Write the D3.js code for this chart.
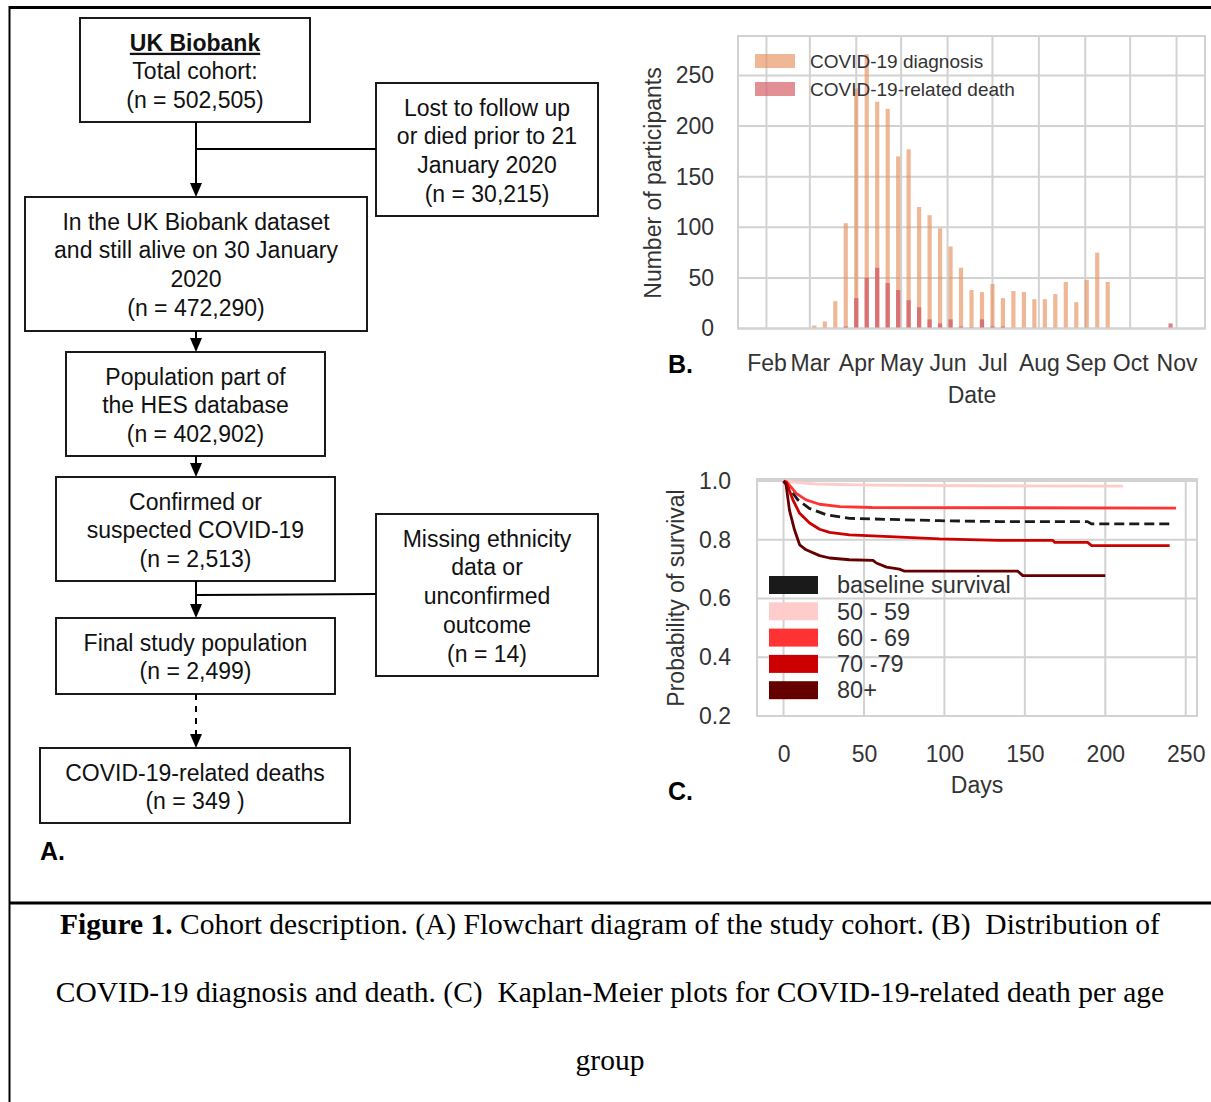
<!DOCTYPE html>
<html>
<head>
<meta charset="utf-8">
<script src="https://cdn.jsdelivr.net/npm/d3@7"></script>
<style>
body { margin: 0; background: #fff; }
svg text { font-family: "Liberation Sans", Arial, sans-serif; }
</style>
</head>
<body>
<div id="fig"></div>
<script>
// ---- panel B: weekly counts, dates are bar centres ----
var weeks = ['2020-03-04', '2020-03-11', '2020-03-18', '2020-03-25', '2020-04-01',
  '2020-04-08', '2020-04-15', '2020-04-22', '2020-04-29', '2020-05-06',
  '2020-05-13', '2020-05-20', '2020-05-27', '2020-06-03', '2020-06-10',
  '2020-06-17', '2020-06-24', '2020-07-01', '2020-07-08', '2020-07-15',
  '2020-07-22', '2020-07-29', '2020-08-05', '2020-08-12', '2020-08-19',
  '2020-08-26', '2020-09-02', '2020-09-09', '2020-09-16', '2020-10-28'];
var diagnoses = [3, 7, 27, 104, 237, 271, 224, 217, 170, 177,
  120, 112, 99, 81, 60, 38, 36, 44, 30, 37,
  36, 29, 29, 34, 46, 26, 48, 75, 46, 0];
var deaths = [0, 0, 0, 2, 30, 50, 60, 45, 38, 28,
  21, 9, 5, 9, 2, 1, 9, 2, 2, 0,
  0, 0, 0, 0, 0, 0, 0, 0, 0, 5];
var monthTicks = ['2020-02-01', '2020-03-01', '2020-04-01', '2020-05-01', '2020-06-01',
  '2020-07-01', '2020-08-01', '2020-09-01', '2020-10-01', '2020-11-01'];
var countTicks = [0, 50, 100, 150, 200, 250];
var barSeries = ['COVID-19 diagnosis', 'COVID-19-related death'];

// ---- panel C: Kaplan-Meier curves as [day, survival] ----
var kmBaseline = [[0, 1.0], [3.7, 0.975], [8.9, 0.936], [16, 0.907], [26.6, 0.885], [41, 0.873],
  [97, 0.865], [134, 0.862], [189, 0.862], [191.5, 0.854], [242, 0.854]];
var km5059 = [[0, 1.0], [2, 0.998], [20, 0.99], [55, 0.986], [120, 0.984], [211, 0.983]];
var km6069 = [[0, 1.0], [2, 0.997], [7.9, 0.958], [14, 0.936], [22.4, 0.921], [35, 0.913],
  [55, 0.91], [244, 0.908]];
var km7079 = [[0, 1.0], [1.7, 0.995], [5.8, 0.936], [10, 0.89], [16.2, 0.857], [22.4, 0.836],
  [28.6, 0.825], [41, 0.817], [66, 0.811], [97, 0.803], [134, 0.798], [167.4, 0.798],
  [168.6, 0.791], [189, 0.791], [191.5, 0.78], [240, 0.78]];
var km80 = [[0, 1.0], [1.5, 0.99], [3.7, 0.9], [6.8, 0.834], [10, 0.783], [14, 0.766],
  [22.4, 0.746], [28.6, 0.738], [41, 0.732], [55.6, 0.73], [57.7, 0.721], [64, 0.707],
  [72, 0.7], [75.3, 0.693], [145.6, 0.693], [148.7, 0.678], [200, 0.678]];
var dayTicks = [0, 50, 100, 150, 200, 250];
var survTicks = [0.2, 0.4, 0.6, 0.8, 1.0];
var ageGroups = ['baseline survival', '50 - 59', '60 - 69', '70 -79', '80+'];
var ageColors = ['#1a1a1a', '#ffcccc', '#ff3333', '#cc0000', '#660000'];

var W = 1211, H = 1102;
var svg = d3.select('#fig').append('svg')
  .attr('width', W)
  .attr('height', H)
  .style('display', 'block');

svg.append('rect').attr('width', W).attr('height', H).attr('fill', '#fff');

// outer frame
svg.append('line').attr('x1', 9).attr('x2', W).attr('y1', 7.5).attr('y2', 7.5)
  .attr('stroke', '#000').attr('stroke-width', 3);
svg.append('line').attr('x1', 9.5).attr('x2', 9.5).attr('y1', 6).attr('y2', H)
  .attr('stroke', '#000').attr('stroke-width', 2);
svg.append('line').attr('x1', 9).attr('x2', W).attr('y1', 903).attr('y2', 903)
  .attr('stroke', '#000').attr('stroke-width', 3);

// ================= A. flowchart =================
var boxes = [
  { x: 80, y: 18, w: 230, h: 104, lines: ['UK Biobank', 'Total cohort:', '(n = 502,505)'], title: true },
  { x: 376, y: 83, w: 222, h: 133, lines: ['Lost to follow up', 'or died prior to 21', 'January 2020', '(n = 30,215)'] },
  { x: 25, y: 197, w: 342, h: 134, lines: ['In the UK Biobank dataset', 'and still alive on 30 January', '2020', '(n = 472,290)'] },
  { x: 66, y: 352, w: 259, h: 104, lines: ['Population part of', 'the HES database', '(n = 402,902)'] },
  { x: 56, y: 477, w: 279, h: 104, lines: ['Confirmed or', 'suspected COVID-19', '(n = 2,513)'] },
  { x: 376, y: 514, w: 222, h: 162, lines: ['Missing ethnicity', 'data or', 'unconfirmed', 'outcome', '(n = 14)'] },
  { x: 56, y: 618, w: 279, h: 76, lines: ['Final study population', '(n = 2,499)'] },
  { x: 40, y: 748, w: 310, h: 75, lines: ['COVID-19-related deaths', '(n = 349 )'] }
];

var flow = svg.append('g');
var bg = flow.selectAll('g.box').data(boxes).enter().append('g').attr('class', 'box');
bg.append('rect')
  .attr('x', function(d) { return d.x; })
  .attr('y', function(d) { return d.y; })
  .attr('width', function(d) { return d.w; })
  .attr('height', function(d) { return d.h; })
  .attr('fill', '#fff')
  .attr('stroke', '#1a1a1a')
  .attr('stroke-width', 2);
bg.each(function(d) {
  var g = d3.select(this);
  d.lines.forEach(function(s, i) {
    var t = g.append('text')
      .attr('x', d.x + d.w / 2)
      .attr('y', d.y + 24.5 + i * 28.7)
      .attr('dy', '0.36em')
      .attr('text-anchor', 'middle')
      .attr('font-size', 23)
      .attr('fill', '#111')
      .text(s);
    if (d.title && i == 0) {
      t.attr('font-weight', 'bold').style('text-decoration', 'underline');
    }
  });
});

var cx = 196;
function arrow(y1, y2, dashed) {
  flow.append('line')
    .attr('x1', cx).attr('x2', cx).attr('y1', y1).attr('y2', y2 - 12)
    .attr('stroke', '#000').attr('stroke-width', 2)
    .attr('stroke-dasharray', dashed ? '6,6' : null);
  flow.append('path')
    .attr('d', 'M' + (cx - 6) + ',' + (y2 - 14) + 'L' + (cx + 6) + ',' + (y2 - 14) + 'L' + cx + ',' + y2 + 'Z')
    .attr('fill', '#000');
}
arrow(122, 197);
arrow(331, 352);
arrow(456, 477);
arrow(581, 618);
arrow(694, 748, true);
flow.append('line').attr('x1', cx).attr('x2', 376).attr('y1', 149).attr('y2', 149)
  .attr('stroke', '#000').attr('stroke-width', 2);
flow.append('line').attr('x1', cx).attr('x2', 376).attr('y1', 595).attr('y2', 594)
  .attr('stroke', '#000').attr('stroke-width', 2);

function panelLabel(s, x, y) {
  svg.append('text').attr('x', x).attr('y', y)
    .attr('font-size', 25).attr('font-weight', 'bold').attr('fill', '#000')
    .text(s);
}
panelLabel('A.', 40, 860);
panelLabel('B.', 668, 373);
panelLabel('C.', 668, 800);

var gridCol = '#d2d2d2', tickCol = '#333';

// ================= B. bar chart =================
var parseDay = d3.utcParse('%Y-%m-%d');
var xB = d3.scaleUtc()
  .domain([parseDay('2020-01-13'), parseDay('2020-11-20')])
  .range([738, 1205]);
var yB = d3.scaleLinear().domain([0, 289]).range([328.5, 36]);

var gB = svg.append('g');
gB.selectAll('line.vg').data(monthTicks).enter().append('line')
  .attr('x1', function(d) { return xB(parseDay(d)); })
  .attr('x2', function(d) { return xB(parseDay(d)); })
  .attr('y1', 36).attr('y2', 328.5)
  .attr('stroke', gridCol).attr('stroke-width', 2);
gB.selectAll('line.hg').data(countTicks).enter().append('line')
  .attr('x1', 738).attr('x2', 1205)
  .attr('y1', function(d) { return yB(d); })
  .attr('y2', function(d) { return yB(d); })
  .attr('stroke', gridCol).attr('stroke-width', 2);

var barW = 4.2;
gB.selectAll('rect.diag').data(diagnoses).enter().append('rect')
  .attr('x', function(d, i) { return xB(parseDay(weeks[i])) - barW / 2; })
  .attr('y', function(d) { return yB(d); })
  .attr('width', barW)
  .attr('height', function(d) { return yB(0) - yB(d); })
  .attr('fill', '#e8905f').attr('fill-opacity', 0.65);
gB.selectAll('rect.death').data(deaths).enter().append('rect')
  .attr('x', function(d, i) { return xB(parseDay(weeks[i])) - barW / 2; })
  .attr('y', function(d) { return yB(d); })
  .attr('width', barW)
  .attr('height', function(d) { return yB(0) - yB(d); })
  .attr('fill', '#d5606a').attr('fill-opacity', 0.8);

gB.append('rect').attr('x', 738).attr('y', 36).attr('width', 467).attr('height', 292.5)
  .attr('fill', 'none').attr('stroke', gridCol).attr('stroke-width', 2);

var axB = gB.append('g').attr('transform', 'translate(738,0)')
  .call(d3.axisLeft(yB).tickValues(countTicks).tickSize(0).tickPadding(24));
var axBx = gB.append('g').attr('transform', 'translate(0,328.5)')
  .call(d3.axisBottom(xB).tickValues(monthTicks.map(parseDay))
    .tickFormat(d3.utcFormat('%b')).tickSize(0).tickPadding(26));
[axB, axBx].forEach(function(a) {
  a.select('.domain').remove();
  a.attr('font-family', null).attr('font-size', null);
  a.selectAll('text').attr('font-size', 23).attr('fill', tickCol);
});

gB.append('text').attr('x', 972).attr('y', 403).attr('text-anchor', 'middle')
  .attr('font-size', 23).attr('fill', tickCol).text('Date');
gB.append('text').attr('transform', 'translate(661,183) rotate(-90)')
  .attr('text-anchor', 'middle').attr('font-size', 23).attr('fill', tickCol)
  .text('Number of participants');

var legB = gB.selectAll('g.leg').data(barSeries).enter().append('g')
  .attr('transform', function(d, i) { return 'translate(755,' + (54 + i * 28) + ')'; });
legB.append('rect').attr('width', 40).attr('height', 14)
  .attr('fill', function(d, i) { return i == 0 ? '#e8905f' : '#d5606a'; })
  .attr('fill-opacity', function(d, i) { return i == 0 ? 0.65 : 0.7; });
legB.append('text').attr('x', 55).attr('y', 7).attr('dy', '0.35em')
  .attr('font-size', 19).attr('fill', tickCol).text(function(d) { return d; });

// ================= C. Kaplan-Meier =================
var xC = d3.scaleLinear().domain([-16.5, 257]).range([757, 1197]);
var yC = d3.scaleLinear().domain([0.2, 1.007]).range([716, 479]);

var gC = svg.append('g');
gC.selectAll('line.vg').data(dayTicks).enter().append('line')
  .attr('x1', function(d) { return xC(d); })
  .attr('x2', function(d) { return xC(d); })
  .attr('y1', 479).attr('y2', 716)
  .attr('stroke', gridCol).attr('stroke-width', 2);
gC.selectAll('line.hg').data(survTicks).enter().append('line')
  .attr('x1', 757).attr('x2', 1197)
  .attr('y1', function(d) { return yC(d); })
  .attr('y2', function(d) { return yC(d); })
  .attr('stroke', gridCol).attr('stroke-width', 2);
gC.append('rect').attr('x', 757).attr('y', 479).attr('width', 440).attr('height', 237)
  .attr('fill', 'none').attr('stroke', gridCol).attr('stroke-width', 2);

var line = d3.line()
  .x(function(d) { return xC(d[0]); })
  .y(function(d) { return yC(d[1]); });
var curves = [kmBaseline, km5059, km6069, km7079, km80];
gC.selectAll('path.km').data(curves).enter().append('path')
  .attr('d', line)
  .attr('fill', 'none')
  .attr('stroke', function(d, i) { return ageColors[i]; })
  .attr('stroke-width', 2.8)
  .attr('stroke-linejoin', 'round')
  .attr('stroke-dasharray', function(d, i) { return i == 0 ? '10,5' : null; });

var axC = gC.append('g').attr('transform', 'translate(757,0)')
  .call(d3.axisLeft(yC).tickValues(survTicks).tickFormat(d3.format('.1f')).tickSize(0).tickPadding(26));
var axCx = gC.append('g').attr('transform', 'translate(0,716)')
  .call(d3.axisBottom(xC).tickValues(dayTicks).tickSize(0).tickPadding(30));
[axC, axCx].forEach(function(a) {
  a.select('.domain').remove();
  a.attr('font-family', null).attr('font-size', null);
  a.selectAll('text').attr('font-size', 23).attr('fill', tickCol);
});

gC.append('text').attr('x', 977).attr('y', 793).attr('text-anchor', 'middle')
  .attr('font-size', 23).attr('fill', tickCol).text('Days');
gC.append('text').attr('transform', 'translate(684,598) rotate(-90)')
  .attr('text-anchor', 'middle').attr('font-size', 23).attr('fill', tickCol)
  .text('Probability of survival');

var legC = gC.selectAll('g.leg').data(ageGroups).enter().append('g')
  .attr('transform', function(d, i) { return 'translate(769,' + (576 + i * 26.3) + ')'; });
legC.append('rect').attr('width', 49).attr('height', 18)
  .attr('fill', function(d, i) { return ageColors[i]; });
legC.append('text').attr('x', 68).attr('y', 9).attr('dy', '0.35em')
  .attr('font-size', 23.5).attr('fill', tickCol).text(function(d) { return d; });

// ================= caption =================
var cap = svg.append('g');
var capLines = [
  ['Figure 1.', ' Cohort description. (A) Flowchart diagram of the study cohort. (B)\u00a0 Distribution of'],
  ['', 'COVID-19 diagnosis and death. (C)\u00a0 Kaplan-Meier plots for COVID-19-related death per age'],
  ['', 'group']
];
capLines.forEach(function(l, i) {
  var t = cap.append('text').attr('x', 610).attr('y', 934 + i * 68)
    .attr('text-anchor', 'middle').attr('fill', '#000')
    .attr('font-size', 29.5)
    .style('font-family', '"Liberation Serif", "Times New Roman", serif');
  if (l[0]) t.append('tspan').attr('font-weight', 'bold').text(l[0]);
  t.append('tspan').text(l[1]);
});
</script>
</body>
</html>
